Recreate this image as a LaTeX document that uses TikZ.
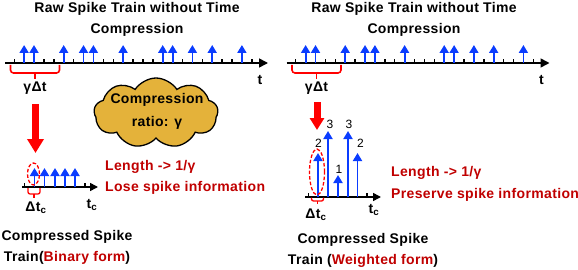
\documentclass[tikz,border=0pt]{standalone}
\usepackage{fontspec}
\setmainfont{Liberation Sans}[LetterSpace=2.5]
\usetikzlibrary{arrows.meta,shapes.symbols}
\definecolor{spikeblue}{RGB}{10,60,255}
\definecolor{darkred}{RGB}{192,0,0}
\definecolor{cloudfill}{RGB}{228,178,58}
\tikzset{
  txt/.style={inner sep=0pt, font=\fontsize{14}{21}\selectfont\bfseries, align=center},
  redtxt/.style={inner sep=0pt, font=\fontsize{14}{21}\selectfont\bfseries, text=darkred, anchor=west},
  numtxt/.style={inner sep=0pt, font=\fontsize{12}{12}\selectfont},
  axisline/.style={draw=black, line width=1.6pt, -{Triangle[width=9pt,length=9pt]}},
  smallaxis/.style={draw=black, line width=1.6pt, -{Triangle[width=8pt,length=8pt]}},
  tickline/.style={draw=black, line width=1.4pt},
  spike/.style={draw=spikeblue, line width=1.8pt, -{Triangle[width=9pt,length=8pt]}},
  bracebr/.style={draw=red, line width=1.6pt, rounded corners=3pt},
  smallbr/.style={draw=red, line width=1.3pt, rounded corners=2pt},
  dashell/.style={draw=red, line width=1.3pt, dash pattern=on 3.5pt off 2pt},
  bigarrow/.style={draw=red, line width=7pt},
}
\begin{document}
\begin{tikzpicture}[x=1pt,y=-1pt]
\useasboundingbox (0,0) rectangle (578,270);

% titles
\node[txt] (L-title) at (137,19.5) {Raw Spike Train without Time\\Compression};
\node[txt] (R-title) at (414,19.5) {Raw Spike Train without Time\\Compression};

% raw spike trains
\foreach \p/\dx in {L/0,R/281.5}{
  \coordinate (\p-a0) at ({5+\dx},63);
  \coordinate (\p-a1) at ({268+\dx},63);
  \foreach \k in {0,...,24}
    \draw[tickline] ({14.2+9.9*\k+\dx},64) -- ++(0,-5);
  \draw[axisline] (\p-a0) -- (\p-a1);
  \foreach \k in {1,2,5,7,8,11,15,16,18,20,23}
    \draw[spike] ({14.2+9.9*\k+\dx},63) -- ++(0,-18);
  \node[txt] (\p-t) at ({260+\dx},80) {t};
  \draw[bracebr] ({10.5+\dx},65) -- ({10.5+\dx},73) -- ({59.5+\dx},73) -- ({59.5+\dx},65);
  \draw[draw=red, line width=1.6pt] ({35+\dx},73) -- ++(0,6);
  \node[txt] (\p-gdt) at ({35+\dx},88) {γΔt};
}

% red compression arrows
\coordinate (L-s) at (35.5,104);
\coordinate (L-e) at (35.5,153);
\draw[bigarrow, -{Triangle[width=16pt,length=14pt]}] (L-s) -- (L-e);
\coordinate (R-s) at (317,102);
\coordinate (R-e) at (317,130);
\draw[bigarrow, -{Triangle[width=14pt,length=12pt]}] (R-s) -- (R-e);

% cloud
\node[cloud, cloud puffs=9, cloud puff arc=115, aspect=1.75, draw=black,
      line width=1.3pt, fill=cloudfill, minimum width=124pt, minimum height=70pt,
      inner sep=0pt] (cloud) at (156,113) {};
\node[txt, font=\fontsize{14}{22.5}\selectfont\bfseries] (cloudtxt) at (157,111.5) {Compression\\ratio: γ};

% left compressed (binary)
\coordinate (Lc-a0) at (22,187);
\coordinate (Lc-a1) at (98,187);
\foreach \x in {24.5,34.5,44.5,55,65,75,85}
  \draw[tickline] (\x,188) -- ++(0,-5);
\draw[smallaxis] (Lc-a0) -- (Lc-a1);
\foreach \x in {34.5,44.5,55,65,75}
  \draw[spike] (\x,187) -- ++(0,-19);
\draw[dashell] (33.5,174) ellipse [x radius=6pt, y radius=11pt];
\draw[smallbr] (28,188) -- (28,194) -- (40,194) -- (40,188);
\draw[draw=red, line width=1.3pt] (34,194) -- (34,198);
\node[txt] (Lc-dtc) at (36,208) {Δt\textsubscript{c}};
\node[txt] (Lc-tc) at (92,205) {t\textsubscript{c}};
\node[redtxt] (L-len) at (105,167) {Length -> 1/γ};
\node[redtxt] (L-lose) at (105,188) {Lose spike information};
\node[txt] (L-cap) at (67,247.5) {Compressed Spike\\Train(\textcolor{darkred}{Binary form})};

% right compressed (weighted)
\coordinate (Rc-a0) at (305,197);
\coordinate (Rc-a1) at (381,197);
\foreach \x in {308.5,318,328,338,348,357.5,367}
  \draw[tickline] (\x,198) -- ++(0,-5);
\draw[smallaxis] (Rc-a0) -- (Rc-a1);
\foreach \x/\w in {318/2,328/3,338/1,348/3,357.5/2}
  \draw[spike] (\x,197) -- ++(0,{-22*\w});
\node[numtxt] (Rn1) at (318.5,143) {2};
\node[numtxt] (Rn2) at (330,124.5) {3};
\node[numtxt] (Rn3) at (339,169.5) {1};
\node[numtxt] (Rn4) at (349,124.5) {3};
\node[numtxt] (Rn5) at (360.5,143) {2};
\draw[dashell] (317,172) ellipse [x radius=7.5pt, y radius=23pt];
\draw[smallbr] (311.5,197.5) -- (311.5,201) -- (323.5,201) -- (323.5,197.5);
\draw[draw=red, line width=1.3pt] (317.5,201) -- (317.5,204);
\node[txt] (Rc-dtc) at (316,215) {Δt\textsubscript{c}};
\node[txt] (Rc-tc) at (374,210) {t\textsubscript{c}};
\node[redtxt] (R-len) at (391,173) {Length -> 1/γ};
\node[redtxt] (R-pres) at (391,195) {Preserve spike information};
\node[txt] (R-cap) at (363,250.5) {Compressed Spike\\Train (\textcolor{darkred}{Weighted form})};
\end{tikzpicture}
\end{document}
